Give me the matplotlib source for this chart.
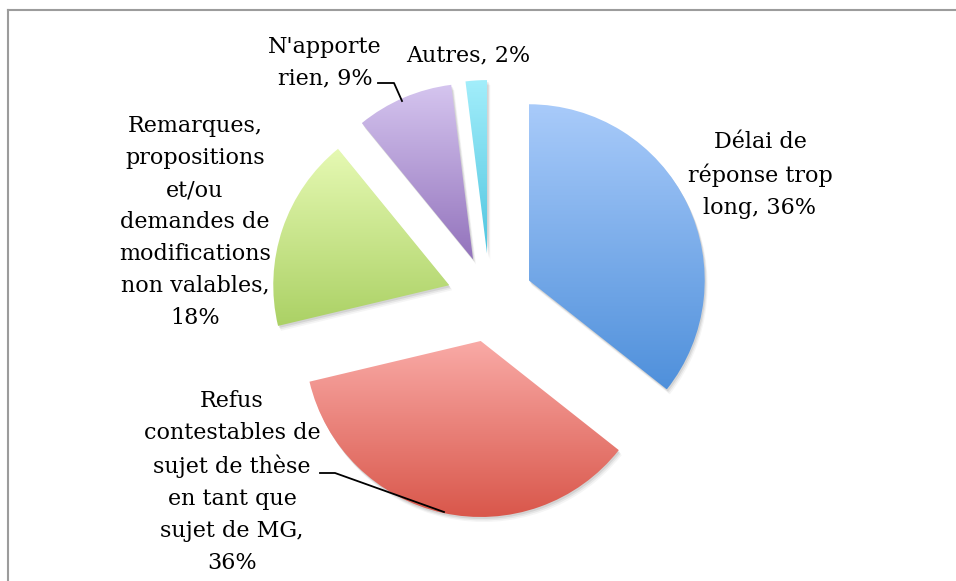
import numpy as np
import matplotlib.pyplot as plt
from matplotlib.colors import LinearSegmentedColormap
from matplotlib.patches import Wedge
from matplotlib.lines import Line2D

# slice data (clockwise from 12 o'clock)
labels = [
    "Délai de\nréponse trop\nlong, 36%",
    "Refus\ncontestables de\nsujet de thèse\nen tant que\nsujet de MG,\n36%",
    "Remarques,\npropositions\net/ou\ndemandes de\nmodifications\nnon valables,\n18%",
    "N'apporte\nrien, 9%",
    "Autres, 2%",
]
values = [36, 36, 18, 9, 2]
top_colors = ["#a9cbfa", "#f9aaa6", "#e6f9b3", "#d5c5ef", "#a3eefb"]
bottom_colors = ["#4f90db", "#d9574b", "#abd165", "#9373bc", "#4fc5df"]

W, H = 956, 581
fig = plt.figure(figsize=(W / 100, H / 100), dpi=100)
ax = fig.add_axes([0, 0, 1, 1])

wedges, _ = ax.pie(values, startangle=90, counterclock=False, radius=176,
                   center=(490, 282), explode=[43] * len(values),
                   wedgeprops=dict(linewidth=0))
ax.set_aspect('equal')
ax.axis('off')

grad = np.linspace(0, 1, 256).reshape(-1, 1)
for w, top, bot in zip(wedges, top_colors, bottom_colors):
    # soft drop shadow
    for k, a in [(5, 0.04), (3.5, 0.06), (2, 0.08)]:
        sh = Wedge((w.center[0] + k * 0.6, w.center[1] - k), w.r, w.theta1, w.theta2,
                   facecolor='black', alpha=a, linewidth=0, zorder=0.5)
        ax.add_patch(sh)
    w.set_facecolor('none')
    w.set_zorder(1)
    x0, y0, x1, y1 = w.get_path().get_extents().extents
    cmap = LinearSegmentedColormap.from_list('g', [bot, top])
    im = ax.imshow(grad, extent=[x0, x1, y0, y1], origin='lower', cmap=cmap,
                   aspect='auto', zorder=1, interpolation='bilinear')
    im.set_clip_path(w)
ax.set_xlim(0, W)
ax.set_ylim(0, H)

font = dict(family='DejaVu Serif', fontsize=16, ha='center', va='center',
            linespacing=1.58, color='black')
label_pos = [(760, 406), (232, 99), (195, 359), (325, 518), (468, 526)]
for lab, (x, y) in zip(labels, label_pos):
    ax.text(x, y, lab, **font)

# leader lines
ax.plot([378, 394, 402], [H - 83, H - 83, H - 101], color='black', lw=1.3, zorder=3)
ax.plot([320, 335, 444], [H - 473, H - 473, H - 512], color='black', lw=1.3, zorder=3)

# chart frame
fig.add_artist(Line2D([8 / W, 8 / W], [0, (H - 10) / H], transform=fig.transFigure,
                      color='#9c9c9c', lw=1.5))
fig.add_artist(Line2D([8 / W, 1], [(H - 10) / H, (H - 10) / H], transform=fig.transFigure,
                      color='#9c9c9c', lw=1.5))

fig.savefig('out.png', dpi=100)
